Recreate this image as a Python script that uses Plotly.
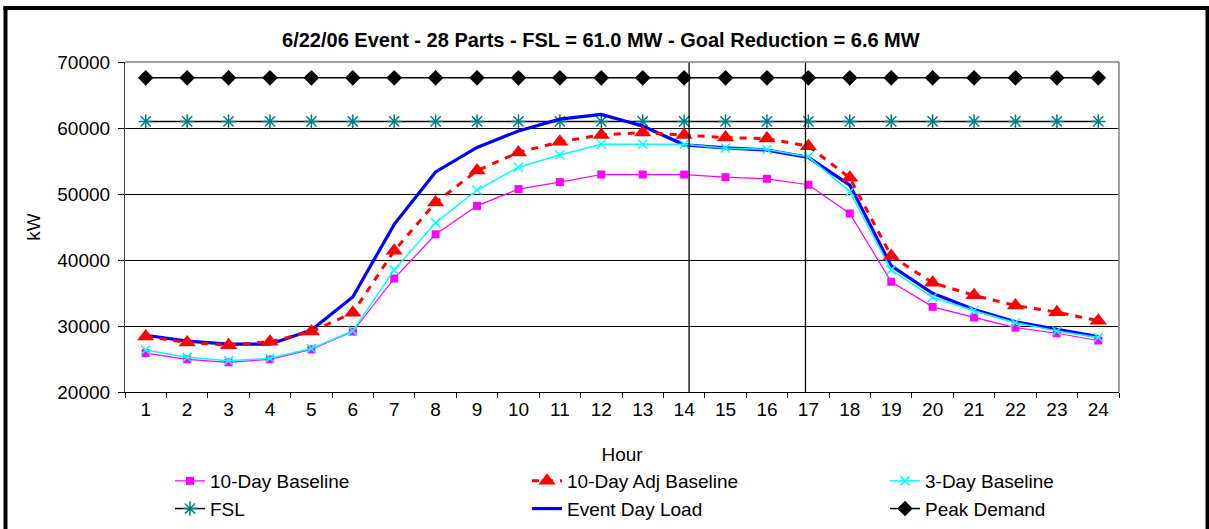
import plotly.graph_objects as go

# Hourly load data for the 6/22/06 curtailment event (kW)
hours = [str(h) for h in range(1, 25)]

ten_day_baseline = [25900, 24950, 24500, 24950, 26450, 29150, 37200, 43900, 48200, 50750,
                    51800, 52950, 52950, 52950, 52550, 52300, 51400, 47050, 36700, 32900,
                    31300, 29750, 28900, 27800]
ten_day_adj_baseline = [28400, 27500, 27100, 27600, 29150, 32000, 41400, 48700, 53550, 56300,
                        57900, 58950, 59300, 58950, 58550, 58400, 57250, 52450, 40600, 36550,
                        34650, 33100, 32100, 30800]
three_day_baseline = [26350, 25250, 24750, 25100, 26600, 29250, 38500, 45650, 50600, 54050,
                      55900, 57550, 57550, 57550, 56950, 56750, 55650, 50350, 38500, 34350,
                      32300, 30500, 29250, 28250]
event_day_load = [28600, 27700, 27250, 27250, 29400, 34400, 45400, 53350, 57050, 59550,
                  61350, 62050, 60300, 57450, 57000, 56650, 55550, 51350, 39100, 34950,
                  32500, 30650, 29500, 28400]
fsl_kw = 61000
goal_reduction_kw = 6600
peak_demand_kw = fsl_kw + goal_reduction_kw

# Event window markers (category-index positions on the hour axis)
event_start_pos = 13.12
event_end_pos = 15.93

FONT = "Liberation Sans, Arial, sans-serif"

# Plot area geometry in pixels
W, H = 1209, 529
L, R, T, B = 125, 1119, 62, 392
pw, ph = R - L, B - T


def px_x(p):
    return (p - L) / pw


def px_y(p):
    return (B - p) / ph


fig = go.Figure()

# Legend columns: legend (col 1), legend2 (col 2), legend3 (col 3)
fig.add_trace(go.Scatter(
    x=hours, y=[peak_demand_kw] * 24, name="Peak Demand", mode="lines+markers",
    line=dict(color="black", width=1.5),
    marker=dict(symbol="diamond", size=12, color="black"),
    legend="legend3", legendrank=2, legendgroup="peak"))
fig.add_trace(go.Scatter(
    x=hours, y=[fsl_kw] * 24, name="FSL", mode="lines+markers",
    line=dict(color="black", width=1.5),
    marker=dict(symbol="asterisk-open", size=12, color="#008080",
                line=dict(color="#008080", width=1.5)),
    legend="legend", legendrank=2, legendgroup="fsl"))
fig.add_trace(go.Scatter(
    x=hours, y=event_day_load, name="Event Day Load", mode="lines",
    line=dict(color="#0000FF", width=3.2),
    legend="legend2", legendrank=2, legendgroup="event"))
fig.add_trace(go.Scatter(
    x=hours, y=ten_day_baseline, name="10-Day Baseline", mode="lines+markers",
    line=dict(color="#FF00FF", width=1.2),
    marker=dict(symbol="square", size=8, color="#FF00FF"),
    legend="legend", legendrank=1, legendgroup="b10"))
fig.add_trace(go.Scatter(
    x=hours, y=three_day_baseline, name="3-Day Baseline", mode="lines+markers",
    line=dict(color="#00FFFF", width=1.5),
    marker=dict(symbol="x-thin-open", size=9, color="#00FFFF",
                line=dict(color="#00FFFF", width=1.5)),
    legend="legend3", legendrank=1, legendgroup="b3"))
fig.add_trace(go.Scatter(
    x=hours, y=ten_day_adj_baseline, name="10-Day Adj Baseline", mode="lines+markers",
    line=dict(color="#FF0000", width=3, dash="7px,7px"),
    marker=dict(symbol="triangle-up", size=15, color="#FF0000"),
    legend="legend2", legendrank=1, legendgroup="adj"))

shapes = [
    # event window lines
    dict(type="line", xref="x", yref="y", x0=event_start_pos, x1=event_start_pos,
         y0=20000, y1=70000, line=dict(color="black", width=1.3)),
    dict(type="line", xref="x", yref="y", x0=event_end_pos, x1=event_end_pos,
         y0=20000, y1=70000, line=dict(color="black", width=1.3)),
    # gray frame on the top and right of the plot area
    dict(type="line", xref="paper", yref="paper", x0=0, x1=1, y0=1, y1=1,
         line=dict(color="#808080", width=1.5)),
    dict(type="line", xref="paper", yref="paper", x0=1, x1=1, y0=0, y1=1,
         line=dict(color="#808080", width=1.5)),
    # thick outer chart border
    dict(type="line", xref="paper", yref="paper", x0=px_x(5.5), x1=px_x(5.5),
         y0=px_y(6), y1=px_y(535), line=dict(color="black", width=4)),
    dict(type="line", xref="paper", yref="paper", x0=px_x(3.5), x1=px_x(1209),
         y0=px_y(8), y1=px_y(8), line=dict(color="black", width=4)),
    dict(type="line", xref="paper", yref="paper", x0=px_x(1207.5), x1=px_x(1207.5),
         y0=px_y(6), y1=px_y(535), line=dict(color="black", width=4)),
]


def legend_col(px_left):
    return dict(orientation="v", x=px_x(px_left), y=px_y(462), xanchor="left", yanchor="top",
                traceorder="grouped", tracegroupgap=0, bgcolor="rgba(0,0,0,0)",
                font=dict(family=FONT, size=19))


fig.update_layout(
    width=W, height=H,
    margin=dict(l=L, r=W - R, t=T, b=H - B, autoexpand=False),
    paper_bgcolor="white", plot_bgcolor="white",
    font=dict(family=FONT, size=19, color="black"),
    title=dict(text="<b>6/22/06 Event - 28 Parts - FSL = 61.0 MW - Goal Reduction = 6.6 MW</b>",
               x=0.497, xref="container", xanchor="center", y=1 - 40 / H, yanchor="middle",
               font=dict(family=FONT, size=20)),
    shapes=shapes,
    showlegend=True,
    legend=legend_col(170),
    legend2=legend_col(527),
    legend3=legend_col(885),
    xaxis=dict(type="category", range=[-0.5, 23.5], showgrid=False,
               showline=True, linecolor="black", linewidth=1.2,
               ticks="outside", tickson="boundaries", ticklen=5, tickcolor="black",
               tickfont=dict(family=FONT, size=19),
               title=dict(text="Hour", standoff=28, font=dict(family=FONT, size=19))),
    yaxis=dict(range=[20000, 70000], dtick=10000, showgrid=True, gridcolor="black",
               gridwidth=1, showline=True, linecolor="#404040", linewidth=1.2,
               ticks="outside", ticklen=6, tickcolor="black", zeroline=False,
               tickformat="d", ticklabelstandoff=4,
               tickfont=dict(family=FONT, size=19),
               title=dict(text="kW", standoff=11, font=dict(family=FONT, size=19))),
)

fig.write_html("out.html")
